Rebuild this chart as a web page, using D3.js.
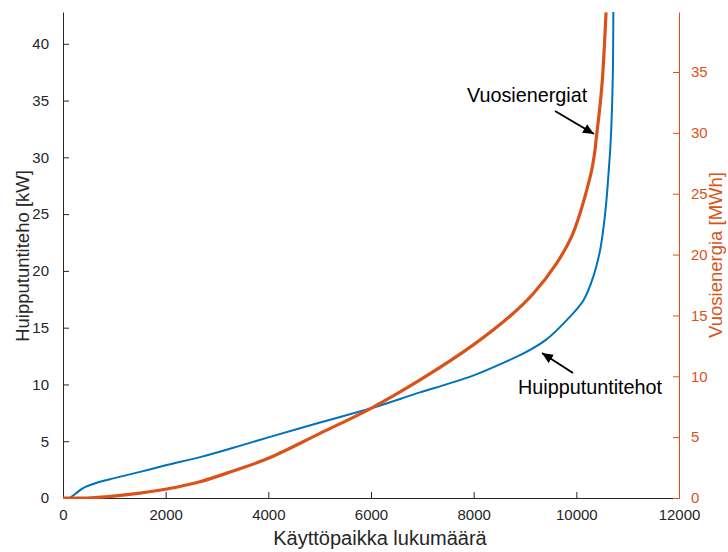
<!DOCTYPE html>
<html>
<head>
<meta charset="utf-8">
<script src="https://cdn.jsdelivr.net/npm/d3@7"></script>
<style>
  html, body { margin: 0; padding: 0; background: #fff; }
  svg { display: block; font-family: "Liberation Sans", Arial, Helvetica, sans-serif; }
</style>
</head>
<body>
<svg id="chart" width="728" height="552"></svg>
<script>
// Peak hourly power per metering point (kW), sorted ascending
const powerCount = [130, 250, 400, 720, 980, 1500, 2020, 2669, 3300, 4000, 5007, 6000, 6955, 7500, 8000, 8500, 9000, 9400, 9813, 10137, 10331, 10462, 10540, 10592, 10637, 10670, 10709, 10721];
const powerKW    = [0, 0.4, 0.9, 1.43, 1.73, 2.3, 2.9, 3.6, 4.4, 5.34, 6.65, 7.9, 9.3, 10.05, 10.8, 11.75, 12.8, 13.9, 15.67, 17.4, 19.5, 21.8, 24.2, 26.5, 29.2, 31.5, 36.8, 42.8];

// Annual energy per metering point (MWh), sorted ascending
const energyCount = [0, 450, 980, 1500, 2020, 2669, 3300, 4000, 5007, 6000, 6955, 8000, 8773, 9163, 9618, 9910, 10072, 10202, 10300, 10364, 10384, 10450, 10506, 10579];
const energyMWh   = [0, 0, 0.16, 0.4, 0.74, 1.34, 2.2, 3.26, 5.31, 7.37, 9.7, 12.6, 15.18, 16.8, 19.3, 21.5, 23.4, 25.3, 26.95, 28.6, 29.4, 31.8, 34.3, 39.9];

const xTicks = [0, 2000, 4000, 6000, 8000, 10000, 12000];
const leftTicks = [0, 5, 10, 15, 20, 25, 30, 35, 40];
const rightTicks = [0, 5, 10, 15, 20, 25, 30, 35];

const BLUE = "#0072BD", ORANGE = "#D95319", INK = "#262626";
const m = { left: 63, right: 679, top: 12, bottom: 498 };

const svg = d3.select("#chart");
const x = d3.scaleLinear().domain([0, 12000]).range([m.left, m.right]);
const yL = d3.scaleLinear().domain([0, 42.8]).range([m.bottom, m.top]);
const yR = d3.scaleLinear().domain([0, 39.93]).range([m.bottom, m.top]);

const defs = svg.append("defs");
defs.append("clipPath").attr("id", "plot")
  .append("rect").attr("x", m.left).attr("y", m.top - 1)
  .attr("width", m.right - m.left).attr("height", m.bottom - m.top + 2);

// Axes: ticks point inward, no top box line
function styleAxis(g, color) {
  g.attr("font-size", 15).attr("font-family", null);
  g.selectAll(".domain").attr("stroke", color).attr("stroke-width", 1);
  g.selectAll(".tick line").attr("stroke", color);
  g.selectAll(".tick text").attr("fill", color);
}

const gx = svg.append("g").attr("transform", `translate(0,${m.bottom})`)
  .call(d3.axisBottom(x).tickValues(xTicks).tickFormat(d3.format("d")).tickSizeInner(-6).tickSizeOuter(0).tickPadding(17));
styleAxis(gx, INK);
gx.selectAll(".tick text").attr("dy", "0.32em");

const gl = svg.append("g").attr("transform", `translate(${m.left},0)`)
  .call(d3.axisLeft(yL).tickValues(leftTicks).tickSizeInner(-6).tickSizeOuter(0).tickPadding(14));
styleAxis(gl, INK);

const gr = svg.append("g").attr("transform", `translate(${m.right},0)`)
  .call(d3.axisRight(yR).tickValues(rightTicks).tickSizeInner(-6).tickSizeOuter(0).tickPadding(12));
styleAxis(gr, ORANGE);

// Curves
const plot = svg.append("g").attr("clip-path", "url(#plot)");
const smooth = d3.curveCatmullRom.alpha(0.5);
const blueLine = d3.line().x(d => x(d[0])).y(d => yL(d[1])).curve(smooth);
const orangeLine = d3.line().x(d => x(d[0])).y(d => yR(d[1])).curve(smooth);

plot.append("path").datum(d3.zip(powerCount, powerKW))
  .attr("d", blueLine).attr("fill", "none").attr("stroke", BLUE).attr("stroke-width", 2);
plot.append("path").datum(d3.zip(energyCount, energyMWh))
  .attr("d", orangeLine).attr("fill", "none").attr("stroke", ORANGE).attr("stroke-width", 3.2);

// Axis titles
svg.append("text").attr("x", 380).attr("y", 545).attr("text-anchor", "middle")
  .attr("font-size", 20).attr("fill", INK).text("Käyttöpaikka lukumäärä");
svg.append("text").attr("transform", `translate(29,256) rotate(-90)`).attr("text-anchor", "middle")
  .attr("font-size", 18.5).attr("fill", INK).text("Huipputuntiteho [kW]");
svg.append("text").attr("transform", `translate(722,255) rotate(-90)`).attr("text-anchor", "middle")
  .attr("font-size", 18.5).attr("fill", ORANGE).text("Vuosienergia [MWh]");

// Annotations with arrows
defs.append("marker").attr("id", "head").attr("viewBox", "0 0 10 10")
  .attr("refX", 10).attr("refY", 5).attr("markerWidth", 5.5).attr("markerHeight", 5.5)
  .attr("markerUnits", "strokeWidth").attr("orient", "auto")
  .append("path").attr("d", "M0,0.5 L10,5 L0,9.5 Z").attr("fill", "#000");

function note(label, tx, ty, x1, y1, x2, y2) {
  svg.append("text").attr("x", tx).attr("y", ty).attr("font-size", 19.8).attr("fill", "#000").text(label);
  svg.append("line").attr("x1", x1).attr("y1", y1).attr("x2", x2).attr("y2", y2)
    .attr("stroke", "#000").attr("stroke-width", 2).attr("marker-end", "url(#head)");
}
note("Vuosienergiat", 467, 102, 555, 111, 594, 134);
note("Huipputuntitehot", 518, 394, 573, 373, 542, 353);
</script>
</body>
</html>
